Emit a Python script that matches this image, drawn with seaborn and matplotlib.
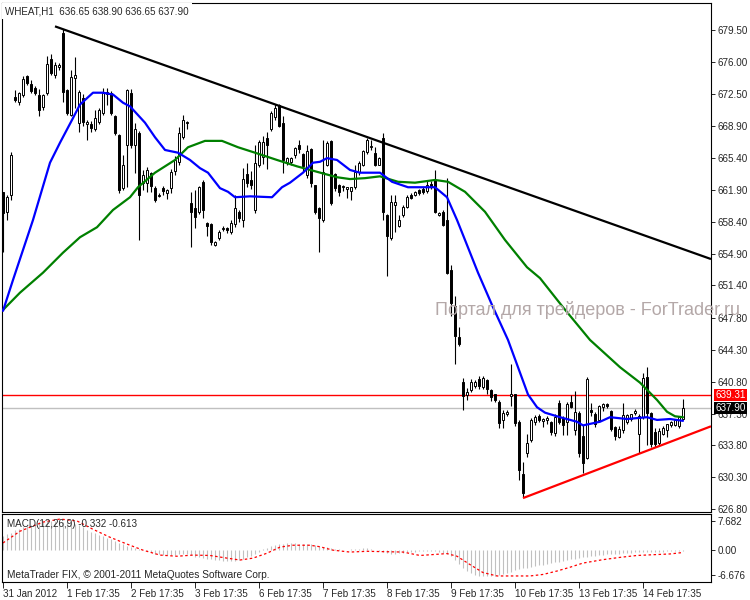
import numpy as np
import matplotlib
matplotlib.use("Agg")
import matplotlib.pyplot as plt
import seaborn as sns

opens = [
    661.7, 659.5, 661.4, 672.1, 671.6, 672.4, 674.4, 673.6, 673.1, 672.4,   # 0-9
    671.0, 672.6, 676.3, 674.6, 675.4, 679.2, 672.9, 670.2, 674.2, 669.3,   # 10-19
    672.0, 669.2, 669.2, 668.6, 669.4, 670.4, 672.5, 672.6, 670.0, 668.0,   # 20-29
    662.1, 666.9, 672.6, 666.9, 668.2, 662.7, 662.7, 663.8, 662.1, 661.2,   # 30-39
    662.1, 661.6, 662.1, 664.0, 665.0, 667.7, 669.3, 660.5, 659.9, 659.5,   # 40-49
    662.8, 658.3, 658.2, 655.8, 656.6, 657.6, 657.7, 657.3, 658.2, 659.5,   # 50-59
    658.6, 663.7, 663.0, 659.7, 664.7, 665.5, 667.6, 668.6, 669.9, 671.2,   # 60-69
    669.3, 665.0, 665.0, 665.7, 666.9, 665.9, 663.6, 666.4, 662.4, 659.9,   # 70-79
    658.6, 664.7, 667.3, 663.7, 662.5, 662.2, 662.0, 661.8, 662.2, 663.9,   # 80-89
    664.6, 666.1, 666.6, 666.0, 664.7, 667.6, 659.2, 656.6, 660.3, 657.9,   # 90-99
    659.1, 660.0, 661.4, 661.3, 661.9, 662.0, 661.8, 662.6, 663.0, 659.1,   # 100-109
    659.5, 658.6, 653.1, 649.1, 645.7, 640.8, 639.3, 639.9, 640.3, 641.1,   # 110-119
    640.2, 641.0, 639.9, 639.4, 638.6, 636.6, 637.2, 639.2, 639.4, 636.4,   # 120-129
    630.6, 633.0, 634.4, 636.4, 637.0, 636.5, 636.6, 636.4, 635.2, 638.5,   # 130-139
    636.8, 636.4, 638.6, 635.5, 637.4, 634.8, 632.4, 637.7, 637.3, 636.6,   # 140-149
    638.0, 638.4, 637.6, 635.8, 634.7, 635.5, 636.4, 636.7, 637.4, 635.0,   # 150-159
    636.9, 641.3, 637.4, 635.3, 634.1, 635.0, 635.5, 636.0, 636.0, 635.9,   # 160-169
    636.65,
]
highs = [
    661.7, 661.3, 666.1, 672.9, 672.7, 674.4, 674.6, 674.0, 673.3, 673.0,
    672.5, 676.6, 676.9, 676.0, 675.9, 679.6, 673.0, 675.1, 676.5, 672.9,
    672.5, 669.6, 669.5, 670.7, 670.9, 673.1, 673.1, 672.8, 670.2, 668.1,
    665.8, 673.0, 673.0, 669.3, 668.4, 664.1, 664.4, 663.9, 662.3, 661.6,
    662.3, 662.0, 664.2, 665.6, 668.8, 670.2, 669.5, 661.7, 661.9, 662.3,
    663.0, 658.4, 658.3, 656.3, 657.5, 657.9, 657.8, 658.6, 661.3, 659.7,
    664.3, 664.9, 664.0, 666.9, 667.4, 667.8, 668.3, 670.6, 671.4, 671.4,
    670.0, 665.5, 665.5, 666.6, 667.4, 666.0, 666.9, 666.5, 662.5, 660.0,
    667.4, 667.3, 667.4, 663.8, 662.6, 662.4, 662.2, 662.2, 664.6, 665.1,
    666.3, 667.6, 667.4, 666.6, 665.5, 668.2, 659.3, 661.3, 661.3, 659.2,
    660.2, 661.3, 661.6, 661.8, 662.0, 662.2, 663.0, 662.9, 664.1, 659.5,
    659.7, 663.2, 653.6, 650.2, 646.8, 641.2, 640.1, 641.1, 641.0, 641.4,
    641.4, 641.1, 640.0, 639.5, 638.8, 637.7, 637.7, 642.7, 639.5, 636.6,
    632.0, 635.0, 636.8, 637.1, 637.2, 636.8, 637.0, 636.5, 637.3, 638.8,
    637.0, 638.6, 639.3, 639.8, 637.6, 636.0, 641.3, 638.5, 637.5, 638.2,
    638.5, 638.5, 637.7, 635.9, 635.9, 638.5, 637.3, 637.3, 637.8, 637.2,
    641.8, 642.4, 637.5, 635.7, 635.7, 635.9, 636.2, 636.5, 636.6, 636.9,
    638.90,
]
lows = [
    655.1, 658.6, 660.8, 671.6, 671.3, 672.1, 673.4, 672.6, 672.4, 670.0,
    670.7, 672.3, 674.6, 674.2, 675.1, 671.6, 670.1, 670.0, 670.9, 668.3,
    668.9, 667.4, 668.3, 668.4, 669.2, 670.2, 671.2, 670.1, 668.0, 661.6,
    661.9, 662.2, 666.5, 663.8, 656.4, 661.9, 661.7, 661.7, 660.6, 661.1,
    661.4, 660.9, 661.6, 663.6, 664.7, 667.5, 668.6, 655.6, 657.7, 659.3,
    658.8, 656.8, 655.8, 655.7, 656.4, 657.4, 657.2, 657.1, 657.8, 658.4,
    657.8, 662.2, 662.0, 659.4, 664.4, 664.8, 664.2, 668.4, 669.6, 668.8,
    663.8, 664.7, 664.7, 665.4, 666.0, 663.9, 663.2, 662.2, 659.3, 655.1,
    658.4, 664.5, 660.3, 661.8, 661.2, 661.8, 661.0, 660.8, 662.0, 663.5,
    664.5, 665.9, 666.3, 664.5, 664.6, 658.6, 652.4, 656.4, 657.3, 657.8,
    658.9, 659.9, 660.9, 661.2, 661.4, 661.5, 661.6, 662.0, 659.4, 659.0,
    657.9, 652.6, 648.0, 642.7, 644.7, 637.7, 638.8, 639.7, 640.1, 640.0,
    640.0, 639.4, 638.7, 638.6, 635.7, 635.7, 637.0, 638.1, 635.9, 630.0,
    628.1, 632.5, 634.2, 636.0, 636.4, 635.8, 636.2, 634.9, 634.8, 636.2,
    634.9, 634.9, 637.9, 634.9, 632.5, 630.8, 632.3, 637.0, 635.8, 636.4,
    637.6, 637.9, 635.4, 634.4, 634.6, 635.2, 636.2, 636.5, 637.1, 633.0,
    636.7, 633.8, 633.6, 633.6, 633.8, 634.9, 634.7, 635.8, 635.9, 635.7,
    636.65,
]
closes = [
    659.4, 661.1, 665.8, 671.8, 672.6, 674.1, 673.7, 672.8, 672.6, 670.7,
    672.4, 675.8, 674.8, 675.7, 675.6, 672.7, 670.4, 674.3, 674.5, 672.7,
    669.4, 669.4, 668.7, 669.8, 670.7, 672.6, 672.7, 670.4, 668.2, 661.9,
    664.7, 672.9, 666.9, 668.6, 661.4, 663.6, 664.1, 662.3, 660.8, 661.4,
    661.8, 661.9, 663.9, 665.2, 668.2, 669.6, 669.4, 659.5, 658.9, 662.2,
    659.7, 657.9, 656.2, 656.2, 657.3, 657.7, 657.5, 658.3, 659.9, 658.8,
    663.1, 662.7, 662.5, 664.9, 667.2, 667.2, 666.9, 670.4, 670.9, 668.9,
    665.2, 665.4, 665.4, 666.5, 666.4, 664.5, 666.2, 662.7, 659.5, 658.8,
    663.9, 667.1, 660.5, 662.1, 661.7, 662.3, 662.2, 662.2, 663.9, 664.9,
    666.2, 667.4, 666.7, 664.7, 665.4, 659.5, 656.8, 660.6, 660.6, 658.6,
    660.0, 661.1, 661.0, 661.7, 661.6, 661.7, 662.5, 662.2, 659.5, 659.4,
    658.1, 652.8, 649.5, 645.8, 645.0, 639.2, 639.7, 640.8, 640.8, 640.3,
    641.2, 640.0, 639.1, 638.8, 636.3, 637.4, 637.5, 639.4, 636.3, 631.1,
    628.6, 634.1, 636.6, 636.9, 636.6, 636.7, 636.8, 635.3, 636.9, 636.4,
    636.0, 638.4, 638.0, 637.5, 633.0, 631.9, 641.1, 637.5, 636.1, 638.1,
    638.3, 638.1, 635.6, 634.8, 635.6, 637.1, 637.1, 637.3, 637.6, 637.0,
    641.2, 637.4, 633.9, 633.9, 635.4, 635.7, 636.1, 636.4, 636.6, 636.9,
    637.90,
]

# medias moviles (barra, precio)
ma_azul_barra = [0, 2.5, 7.5, 11.75, 14.25, 17.25, 19.25, 22.5, 25, 27.5, 30, 31.75,
                 35.5, 38, 40.5, 43.75, 46.75, 49.25, 51.25, 54.25, 56.25, 58, 61.75,
                 67.25, 69.75, 71.75, 75, 77.5, 79.25, 81, 83.5, 86.75, 89.25, 94.25,
                 97.25, 101.25, 108, 111, 113.5, 115.5, 118.75, 122.5, 126.25, 129.25,
                 131.25, 133.5, 135.5, 139.25, 143.5, 145, 149.25, 151.75, 156, 161,
                 163.5, 166.75, 170]
ma_azul_valor = [648.6, 652.0, 658.6, 664.9, 667.1, 669.6, 671.3, 672.6, 672.6, 672.4,
                 671.5, 671.1, 669.3, 667.7, 666.3, 666.0, 665.2, 664.3, 663.8, 662.1,
                 661.7, 661.1, 661.2, 661.1, 662.2, 662.7, 663.8, 664.9, 665.0, 665.4,
                 665.2, 664.1, 663.8, 663.8, 662.8, 662.2, 662.2, 661.1, 658.6, 656.4,
                 652.8, 649.0, 645.4, 641.8, 639.4, 638.0, 637.4, 636.9, 636.4, 636.0,
                 636.4, 636.9, 636.7, 636.9, 636.6, 636.7, 636.5]
ma_verde_barra = [0, 4.25, 10, 15, 19.25, 23.5, 27.5, 31.75, 33.75, 38, 43, 46.25, 50.5,
                  54.75, 58.75, 63, 68.5, 73.5, 78.5, 83.5, 86.75, 90.5, 94.25, 98.75,
                  103, 108, 111.25, 115.5, 120.5, 125.5, 131, 134.25, 140, 146.75,
                  154.25, 159.25, 163.5, 166, 168, 170]
ma_verde_valor = [648.7, 650.6, 652.8, 655.0, 656.7, 657.8, 659.7, 661.1, 662.2, 663.8,
                  665.2, 666.6, 667.3, 667.3, 666.6, 666.0, 665.2, 664.5, 663.9, 663.3,
                  663.1, 663.2, 663.4, 662.8, 662.7, 663.0, 662.8, 661.7, 659.5, 656.4,
                  653.4, 652.2, 649.0, 645.4, 642.4, 640.7, 638.8, 637.5, 637.0, 636.9]

# lineas de tendencia (barra, precio)
tend_negra_barra = [13, 177]
tend_negra_valor = [679.9, 654.3]
tend_roja_barra = [130, 177]
tend_roja_valor = [628.0, 635.9]
nivel_rojo = 639.31

precios_eje = [679.50, 676.00, 672.50, 668.90, 665.40, 661.90, 658.40, 654.90,
               651.40, 647.80, 644.30, 640.80, 637.30, 633.80, 630.30, 626.80]

# MACD
macd_hist = [
    3.8, 4.2, 4.6, 5.2, 5.6, 6.0, 6.4, 6.7, 7.0, 7.3,            # 0-9
    7.5, 7.6, 7.7, 7.6, 7.6, 7.5, 7.4, 7.2, 7.0, 6.6,            # 10-19
    6.0, 5.3, 4.8, 4.4, 4.0, 3.7, 3.3, 3.0, 2.5, 2.0,            # 20-29
    1.5, 1.2, 0.9, 0.7, 0.4, 0.1, -0.3, -0.6, -0.9, -1.1,        # 30-39
    -1.3, -1.4, -1.4, -1.3, -1.1, -1.0, -1.0, -1.4, -1.7, -1.8,  # 40-49
    -2.0, -2.2, -2.4, -2.6, -2.7, -2.8, -2.9, -2.9, -2.8, -2.6,  # 50-59
    -2.3, -1.9, -1.5, -1.0, -0.4, 0.2, 0.7, 1.1, 1.4, 1.6,       # 60-69
    1.7, 1.8, 1.8, 1.8, 1.7, 1.7, 1.6, 1.5, 1.3, 1.1,            # 70-79
    0.9, 0.8, 0.6, 0.4, 0.2, 0.1, 0.1, 0.2, 0.3, 0.4,            # 80-89
    0.5, 0.5, 0.3, 0.1, -0.1, -0.5, -0.8, -0.9, -0.9, -0.8,      # 90-99
    -0.7, -0.6, -0.5, -0.4, -0.3, -0.3, -0.2, -0.2, -0.3, -0.5,  # 100-109
    -0.7, -1.0, -1.6, -2.6, -3.6, -4.6, -5.5, -6.1, -6.5, -6.7,  # 110-119
    -6.8, -6.8, -6.8, -6.7, -6.6, -6.4, -6.1, -5.7, -5.3, -5.0,  # 120-129
    -4.8, -4.6, -4.4, -4.2, -4.0, -3.8, -3.6, -3.4, -3.2, -3.0,  # 130-139
    -2.8, -2.5, -2.3, -2.2, -2.0, -1.9, -1.8, -1.6, -1.5, -1.3,  # 140-149
    -1.2, -1.1, -1.0, -0.9, -0.9, -0.8, -0.7, -0.7, -0.6, -0.6,  # 150-159
    -0.5, -0.5, -0.4, -0.4, -0.4, -0.4, -0.3, -0.3, -0.3, -0.3,  # 160-169
    -0.332,
]
senal_barra = [0, 4.25, 10, 14.25, 18.5, 22.5, 26.75, 31, 35, 39.25, 43.5, 47.5, 51.75,
               56, 59.25, 62.5, 66, 69.25, 72.5, 76.75, 79.25, 82.5, 86.75, 91, 100,
               104.25, 111, 113.5, 116.75, 120, 123.5, 131.75, 135, 138.5, 141.75, 145,
               150, 154.25, 158.5, 162.5, 166.75, 170]
senal_valor = [1.9, 5.0, 7.4, 8.2, 7.7, 5.5, 3.4, 1.6, 0.0, -1.3, -1.6, -1.3, -1.4,
               -2.1, -2.6, -2.1, -0.8, 0.8, 1.3, 1.3, 0.9, 0.0, -0.5, -0.3, -0.5,
               -1.4, -0.9, -1.6, -3.8, -5.9, -6.8, -6.8, -6.4, -5.5, -4.5, -3.4,
               -2.5, -1.9, -1.4, -1.2, -1.0, -0.613]
macd_eje = [7.682, 0.0, -6.676]
macd_eje_txt = ["7.682", "0.00", "-6.676"]

fechas_barra = [0, 16, 32, 48, 64, 80, 96, 112, 128, 144, 160]
fechas_txt = ["31 Jan 2012", "1 Feb 17:35", "2 Feb 17:35", "3 Feb 17:35", "6 Feb 17:35",
              "7 Feb 17:35", "8 Feb 17:35", "9 Feb 17:35", "10 Feb 17:35",
              "13 Feb 17:35", "14 Feb 17:35"]

# ---- grafico ----
sns.set_style("white")
plt.rcParams["font.family"] = ["Liberation Sans", "DejaVu Sans"]
FS = 7.1

o = np.array(opens); h = np.array(highs); l = np.array(lows); c = np.array(closes)
x = np.arange(len(c))
sube = c >= o
alto = np.maximum(np.abs(c - o), 0.06)
base = np.minimum(o, c)

fig = plt.figure(figsize=(7.5, 6), dpi=100)
ax = fig.add_axes([2 / 750, 88 / 600, 709 / 750, 509 / 600])
ax2 = fig.add_axes([2 / 750, 18 / 600, 709 / 750, 68 / 600])

XMIN, XMAX = -0.25, 177

# lineas horizontales
ax.axhline(nivel_rojo, color="#ff0000", lw=1.0, zorder=1)
ax.axhline(c[-1], color="#c0c0c0", lw=1.0, zorder=1)

# velas
ax.vlines(x, l, h, color="black", lw=0.8, zorder=3)
ax.bar(x[sube], alto[sube], bottom=base[sube], width=0.55, color="white",
       edgecolor="black", linewidth=0.7, zorder=4)
ax.bar(x[~sube], alto[~sube], bottom=base[~sube], width=0.55, color="black",
       edgecolor="black", linewidth=0.7, zorder=4)

# medias moviles
sns.lineplot(x=ma_verde_barra, y=ma_verde_valor, color="#008000", lw=1.6, ax=ax, zorder=5)
sns.lineplot(x=ma_azul_barra, y=ma_azul_valor, color="#0000ff", lw=1.6, ax=ax, zorder=6)

# tendencias
ax.plot(tend_negra_barra, tend_negra_valor, color="black", lw=1.6, zorder=6,
        solid_capstyle="butt")
ax.plot(tend_roja_barra, tend_roja_valor, color="#ff0000", lw=1.6, zorder=6,
        solid_capstyle="butt")

ax.set_xlim(XMIN, XMAX)
ax.set_ylim(626.47, 682.47)
ax.set_xticks([])
ax.yaxis.tick_right()
ax.set_yticks(precios_eje)
ax.set_yticklabels([f"{v:.2f}" for v in precios_eje], fontsize=FS)
ax.tick_params(axis="y", direction="out", length=3, width=0.7, pad=2, right=True)
ax.set_xlabel(""); ax.set_ylabel("")
for s in ax.spines.values():
    s.set_color("black"); s.set_linewidth(0.8)

# etiquetas de precio
ax.annotate("639.31", xy=(1.0, nivel_rojo), xycoords=("axes fraction", "data"),
            xytext=(3, 0), textcoords="offset points", fontsize=FS, color="white",
            va="center", ha="left", zorder=10,
            bbox=dict(boxstyle="square,pad=0.12", fc="#ff0000", ec="none"))
ax.annotate("637.90", xy=(1.0, c[-1]), xycoords=("axes fraction", "data"),
            xytext=(3, 0), textcoords="offset points", fontsize=FS, color="white",
            va="center", ha="left", zorder=10,
            bbox=dict(boxstyle="square,pad=0.12", fc="black", ec="none"))
for t in ax.texts:
    t.set_clip_on(False)

# MACD
ax2.vlines(x, 0, macd_hist, color="#c0c0c0", lw=0.8)
ax2.plot(senal_barra, senal_valor, color="#ff0000", lw=0.9, linestyle=(0, (2, 2)))
ax2.set_xlim(XMIN, XMAX)
ax2.set_ylim(-8.39, 9.53)
ax2.yaxis.tick_right()
ax2.set_yticks(macd_eje)
ax2.set_yticklabels(macd_eje_txt, fontsize=FS)
ax2.tick_params(axis="y", direction="out", length=3, width=0.7, pad=2)
ax2.set_xticks(fechas_barra)
ax2.set_xticklabels(fechas_txt, fontsize=FS)
ax2.tick_params(axis="x", direction="out", length=4, width=0.7, pad=1, bottom=True)
for lbl in ax2.get_xticklabels():
    lbl.set_ha("left")
for s in ax2.spines.values():
    s.set_color("black"); s.set_linewidth(0.8)

ax2.text(5 / 709, 0.86, "MACD(12,26,9) -0.332 -0.613", transform=ax2.transAxes,
         fontsize=FS, va="center", ha="left")
ax2.text(5 / 709, 0.1, "MetaTrader FIX, © 2001-2011 MetaQuotes Software Corp.",
         transform=ax2.transAxes, fontsize=7.3, va="center", ha="left")

# titulo y marca de agua
fig.text(5 / 750, 1 - 11 / 600, "WHEAT,H1  636.65 638.90 636.65 637.90", fontsize=FS,
         va="center", ha="left",
         bbox=dict(boxstyle="square,pad=0.3", fc="white", ec="none"))
fig.text(435 / 750, 1 - 310 / 600, "Портал для трейдеров - ForTrader.ru", fontsize=13,
         color="#b4a8a8", va="center", ha="left", zorder=20)

fig.savefig("out.png", dpi=100, facecolor="white")
